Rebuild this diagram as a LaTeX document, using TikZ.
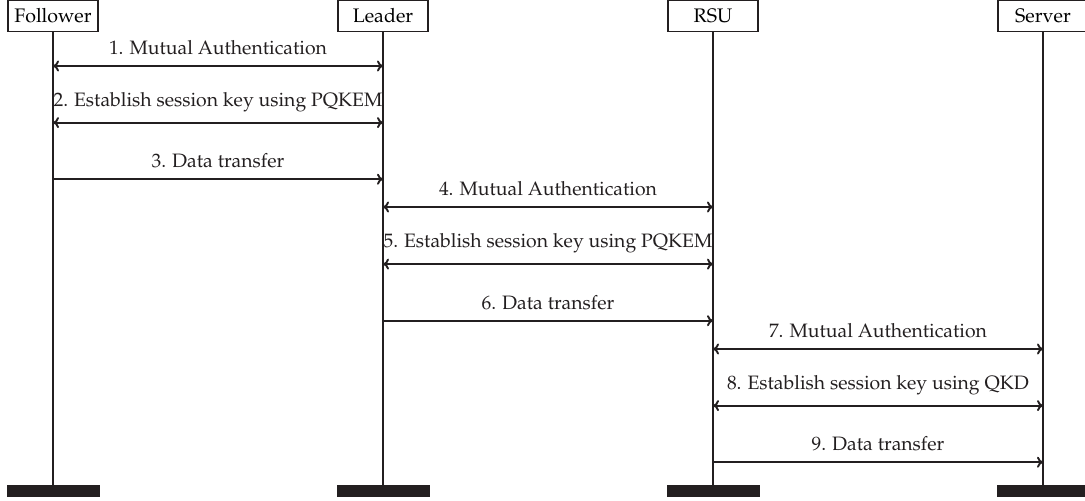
\documentclass[tikz,border=0pt]{standalone}
\usepackage[T1]{fontenc}
\usepackage{mathpazo}
\usetikzlibrary{arrows.meta}

\definecolor{ink}{HTML}{231F20}

\tikzset{
  actor/.style={draw=ink, line width=0.7pt, fill=white, minimum width=45pt,
    minimum height=15.5pt, inner sep=0pt, font=\fontsize{9.8}{11}\selectfont},
  foot/.style={fill=ink, minimum width=46.5pt, minimum height=6pt, inner sep=0pt},
  lifeline/.style={draw=ink, line width=1pt},
  msg/.style={draw=ink, line width=0.95pt, -{To[length=3pt,width=5.5pt]}},
  msgboth/.style={msg, {To[length=3pt,width=5.5pt]}-{To[length=3pt,width=5.5pt]}},
  lbl/.style={above=5pt, inner sep=0pt, font=\fontsize{9.7}{11}\selectfont, text=ink}
}

\begin{document}
\begin{tikzpicture}[x=0.5pt, y=-0.5pt]
  \useasboundingbox (0,0) rectangle (1085,501);

  % participants
  \node[actor] (F) at (53,16)   {Follower};
  \node[actor] (L) at (383,16)  {Leader};
  \node[actor] (R) at (713,16)  {RSU};
  \node[actor] (S) at (1043,16) {Server};

  % feet of the lifelines
  \node[foot] (Fb) at (53,491)   {};
  \node[foot] (Lb) at (383,491)  {};
  \node[foot] (Rb) at (713,491)  {};
  \node[foot] (Sb) at (1043,491) {};

  \draw[lifeline] (F.south) -- (Fb.north);
  \draw[lifeline] (L.south) -- (Lb.north);
  \draw[lifeline] (R.south) -- (Rb.north);
  \draw[lifeline] (S.south) -- (Sb.north);

  % message rows
  \coordinate (r1) at (0,66);
  \coordinate (r2) at (0,122.6);
  \coordinate (r3) at (0,179.2);
  \coordinate (r4) at (0,207);
  \coordinate (r5) at (0,264.1);
  \coordinate (r6) at (0,320.7);
  \coordinate (r7) at (0,349);
  \coordinate (r8) at (0,405.6);
  \coordinate (r9) at (0,462.2);

  % follower <-> leader
  \draw[msgboth] (F |- r1) -- node[lbl] {1. Mutual Authentication} (L |- r1);
  \draw[msgboth] (F |- r2) -- node[lbl] {2. Establish session key using PQKEM} (L |- r2);
  \draw[msg]     (F |- r3) -- node[lbl] {3. Data transfer} (L |- r3);

  % leader <-> RSU
  \draw[msgboth] (L |- r4) -- node[lbl] {4. Mutual Authentication} (R |- r4);
  \draw[msgboth] (L |- r5) -- node[lbl] {5. Establish session key using PQKEM} (R |- r5);
  \draw[msg]     (L |- r6) -- node[lbl] {6. Data transfer} (R |- r6);

  % RSU <-> server
  \draw[msgboth] (R |- r7) -- node[lbl] {7. Mutual Authentication} (S |- r7);
  \draw[msgboth] (R |- r8) -- node[lbl] {8. Establish session key using QKD} (S |- r8);
  \draw[msg]     (R |- r9) -- node[lbl] {9. Data transfer} (S |- r9);
\end{tikzpicture}
\end{document}
